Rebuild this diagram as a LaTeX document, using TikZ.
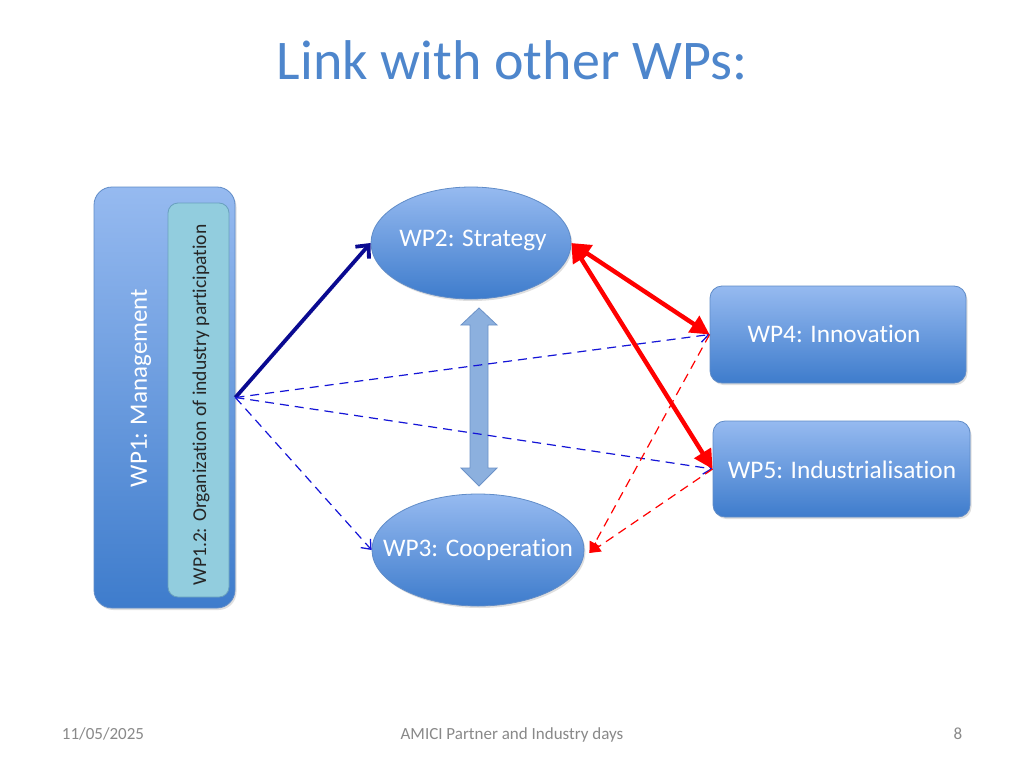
\documentclass[tikz,border=0pt]{standalone}
\usepackage{fontspec}
\setmainfont{Carlito}[Ligatures={NoCommon}]
\usetikzlibrary{arrows.meta,shapes.geometric,shadows}
\definecolor{titleblue}{RGB}{78,134,204}
\definecolor{boxtop}{RGB}{150,186,240}
\definecolor{boxbot}{RGB}{62,124,204}
\definecolor{boxedge}{RGB}{96,140,200}
\definecolor{tealfill}{RGB}{146,205,222}
\definecolor{tealedge}{RGB}{105,160,190}
\definecolor{navy}{RGB}{10,10,145}
\definecolor{dblue}{RGB}{20,20,215}
\definecolor{blockfill}{RGB}{140,176,222}
\definecolor{blockedge}{RGB}{108,146,200}
\definecolor{footgray}{RGB}{137,137,137}
\tikzset{
  wpbox/.style={draw=boxedge, line width=0.8pt, top color=boxtop, bottom color=boxbot, inner sep=0pt,
     drop shadow={opacity=0.25, shadow xshift=1.5pt, shadow yshift=-2pt}},
  wptext/.style={text=white, font=\fontsize{25.3}{30}\selectfont, inner sep=0pt},
  dasharrow/.style={dblue, line width=1.2pt, dash pattern=on 9pt off 6pt, -{Straight Barb[length=8pt,width=13pt,line width=1.3pt]}},
  reddash/.style={red, line width=1.2pt, dash pattern=on 9pt off 6pt, -{Triangle[length=11pt,width=11pt]}},
  redthick/.style={red, line width=4.4pt, {Triangle[length=19pt,width=19pt]}-{Triangle[length=19pt,width=19pt]}},
  foot/.style={text=footgray, font=\fontsize{17}{20}\selectfont, inner sep=0pt, anchor=base}
}
\begin{document}
\begin{tikzpicture}[x=1pt,y=-1pt]
\useasboundingbox (0,0) rectangle (1024,768);
\fill[white] (0,0) rectangle (1024,768);
% title
\node[text=titleblue, font=\fontsize{56}{64}\selectfont, inner sep=0pt] (title) at (512,60) {Link with other WPs:};
% WP1
\node[wpbox, rounded corners=18pt, minimum width=141pt, minimum height=421pt] (wp1) at (164.5,397.5) {};
\node[wptext, rotate=90, font=\fontsize{25}{30}\selectfont] (wp1t) at (141,388) {WP1: Management};
\node[draw=tealedge, line width=0.8pt, fill=tealfill, rounded corners=10pt, minimum width=61pt, minimum height=394pt, inner sep=0pt] (wp12) at (198.5,400) {};
\node[rotate=90, text=black!85, font=\fontsize{19.6}{23}\selectfont, inner sep=0pt] (wp12t) at (201,405) {WP1.2: Organization of industry participation};
% ellipses
\node[wpbox, ellipse, minimum width=200pt, minimum height=112pt] (wp2) at (471,243) {};
\node[wptext] (wp2t) at (473,240) {WP2: Strategy};
\node[wpbox, ellipse, minimum width=212pt, minimum height=112pt] (wp3) at (478,550) {};
\node[wptext] (wp3t) at (478,550) {WP3: Cooperation};
% rects
\node[wpbox, rounded corners=12pt, minimum width=256pt, minimum height=97pt] (wp4) at (838,334.5) {};
\node[wptext] (wp4t) at (834,334) {WP4: Innovation};
\node[wpbox, rounded corners=12pt, minimum width=257pt, minimum height=96pt] (wp5) at (841.5,469) {};
\node[wptext] (wp5t) at (842,470) {WP5: Industrialisation};
% block double arrow
\draw[blockedge, fill=blockfill, line width=0.8pt, line join=miter]
  (479,308) -- (497,325) -- (488,325) -- (488,468) -- (497,468) -- (479,486)
  -- (461,468) -- (470,468) -- (470,325) -- (461,325) -- cycle;
% connectors
\draw[navy, line width=3.8pt, -{Straight Barb[length=10pt,width=18pt,line width=3.8pt]}] (wp1.east) -- (wp2.west);
\draw[dasharrow] (wp1.east) -- (wp4.west);
\draw[dasharrow] (wp1.east) -- (wp5.west);
\draw[dasharrow] (wp1.east) -- (wp3.west);
\draw[reddash] (wp4.west) -- ([xshift=5pt,yshift=-3pt]wp3.east);
\draw[reddash] (wp5.west) -- ([xshift=5pt,yshift=-3pt]wp3.east);
\draw[redthick] (wp2.east) -- (wp4.west);
\draw[redthick] (wp2.east) -- (wp5.west);
% footer
\node[foot] (date) at (103,739) {11/05/2025};
\node[foot] (event) at (512,739) {AMICI Partner and Industry days};
\node[foot] (page) at (958,739) {8};
\end{tikzpicture}
\end{document}
